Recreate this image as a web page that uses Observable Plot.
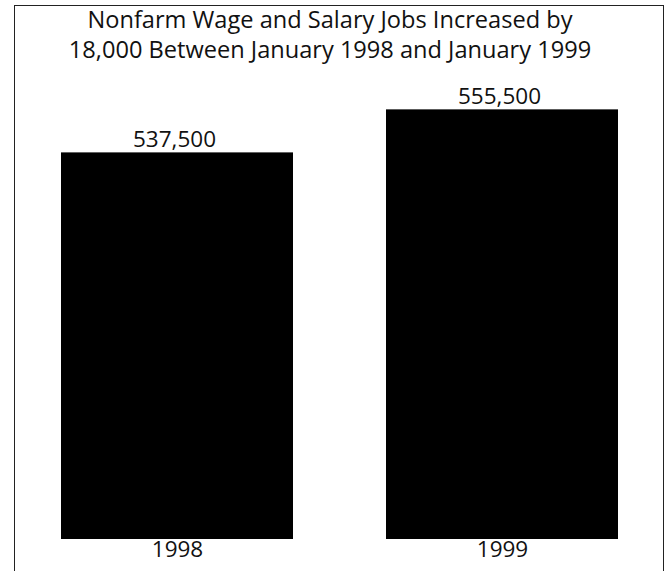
<!DOCTYPE html>
<html>
<head>
<meta charset="utf-8">
<script src="https://cdn.jsdelivr.net/npm/d3@7"></script>
<script src="https://cdn.jsdelivr.net/npm/@observablehq/plot@0.6"></script>
<style>
  html, body { margin: 0; padding: 0; background: #fff; }
  #wrap { position: relative; width: 665px; height: 571px; overflow: hidden; font-family: "Open Sans", sans-serif; }
  #frame { position: absolute; left: 13.5px; top: 4.5px; width: 650px; height: 620px; border: 1.3px solid #222; box-sizing: border-box; }
  #title { position: absolute; left: 0; width: 660px; top: 4px; text-align: center; font-size: 23.6px; line-height: 30px; color: #111; }
  #chart { position: absolute; left: 0; top: 0; }
</style>
</head>
<body>
<div id="wrap">
  <div id="frame"></div>
  <div id="chart"></div>
  <div id="title">Nonfarm Wage and Salary Jobs Increased by<br>18,000 Between January 1998 and January 1999</div>
</div>
<script>
const years = ["1998", "1999"];
const jobs = [537500, 555500];
const labels = ["537,500", "555,500"];

const data = years.map((y, i) => ({year: y, jobs: jobs[i], label: labels[i]}));

const chart = Plot.plot({
  width: 665,
  height: 571,
  marginLeft: 60,
  marginRight: 46,
  marginTop: 3,
  marginBottom: 32,
  style: {fontFamily: "Open Sans, sans-serif", background: "transparent", color: "#111"},
  x: {domain: years, paddingInner: 0.285, paddingOuter: 0, label: null},
  y: {domain: [375750, 600000], axis: null},
  marks: [
    Plot.barY(data, {x: "year", y1: 375750, y2: "jobs", fill: "#000"}),
    Plot.text(data, {x: "year", y: "jobs", text: "label", lineAnchor: "bottom", dy: -6, dx: -3, fontSize: 22.5, fill: "#111"}),
    Plot.axisX({tickSize: 0, tickPadding: 2, fontSize: 22.5, label: null})
  ]
});
document.getElementById("chart").appendChild(chart);
</script>
</body>
</html>
